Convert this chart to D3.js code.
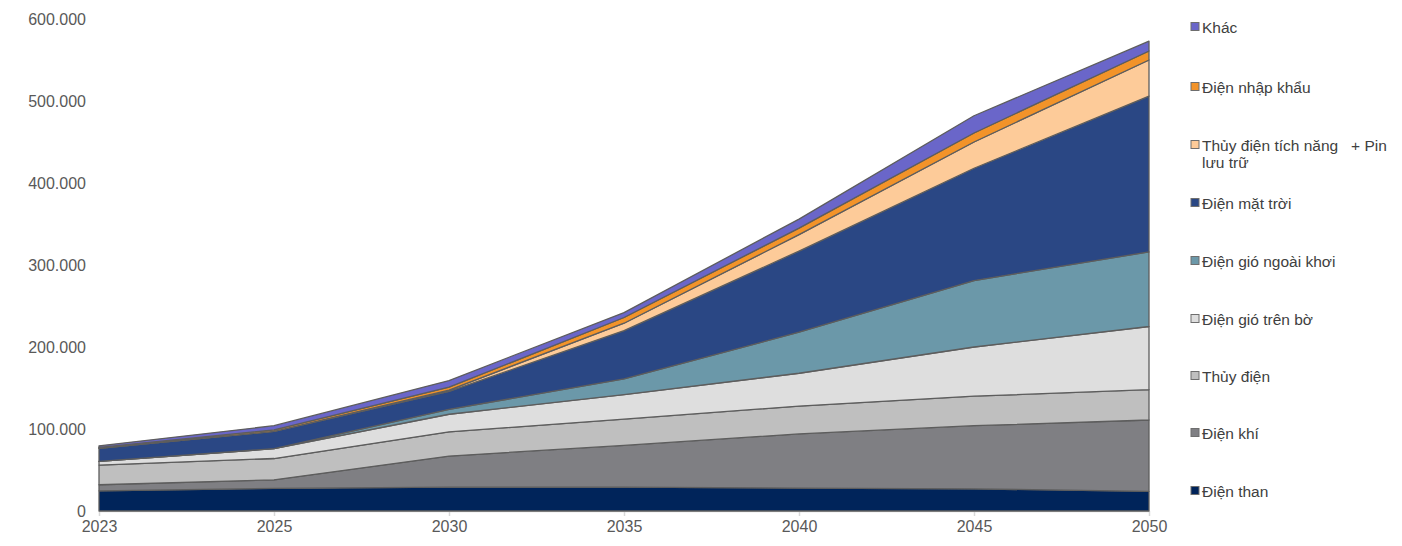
<!DOCTYPE html>
<html>
<head>
<meta charset="utf-8">
<script src="https://cdn.jsdelivr.net/npm/d3@7"></script>
<style>
  html, body { margin: 0; padding: 0; background: #fff; }
  svg { display: block; font-family: "Liberation Sans", Arial, sans-serif; }
</style>
</head>
<body>
<svg id="chart" width="1402" height="546"></svg>
<script>
// ---- data (MW) ----
const years = ["2023", "2025", "2030", "2035", "2040", "2045", "2050"];
const coal     = [24600, 27500, 29000, 29000, 28000, 27000, 24000];
const gas      = [7400, 10500, 38000, 51000, 66000, 77000, 87000];
const hydro    = [24000, 26000, 29500, 32000, 34000, 36000, 37000];
const onshore  = [4500, 12000, 21500, 30000, 40000, 60000, 77000];
const offshore = [0, 0, 6000, 19000, 50000, 81000, 91000];
const solar    = [16000, 21000, 22000, 59000, 99000, 137000, 190000];
const storage  = [0, 0, 1500, 9000, 20000, 32000, 44000];
const imports  = [1000, 2000, 3500, 7000, 8000, 11000, 11000];
const other    = [2000, 5000, 8000, 6000, 11000, 21000, 12000];
const yTicks   = [0, 100000, 200000, 300000, 400000, 500000, 600000];

const seriesNames = ["Điện than", "Điện khí", "Thủy điện", "Điện gió trên bờ", "Điện gió ngoài khơi",
  "Điện mặt trời", "Thủy điện tích năng   + Pin lưu trữ", "Điện nhập khẩu", "Khác"];
const seriesValues = [coal, gas, hydro, onshore, offshore, solar, storage, imports, other];
const colors = ["#00245a", "#7f7f83", "#bfbfbf", "#dedede", "#6b98a9", "#2a4784", "#fdcb99", "#f29329", "#6a66c9"];

// ---- build table ----
const keys = seriesNames.map((d, i) => "s" + i);
const table = years.map((y, j) => {
  const row = { year: y };
  seriesValues.forEach((arr, i) => row[keys[i]] = arr[j]);
  return row;
});
const stacked = d3.stack().keys(keys)(table);

const svg = d3.select("#chart");
const x = d3.scalePoint().domain(years).range([99, 1149]);
const y = d3.scaleLinear().domain([0, 600000]).range([511, 19]);

const loc = d3.formatLocale({ decimal: ",", thousands: ".", grouping: [3], currency: ["", ""] });
const fmt = loc.format(",");

const area = d3.area()
  .x(d => x(d.data.year))
  .y0(d => y(d[0]))
  .y1(d => y(d[1]));

// x axis
const xAxis = d3.axisBottom(x).tickSize(5).tickSizeOuter(0).tickPadding(5);
const gx = svg.append("g").attr("transform", "translate(0,511)").call(xAxis);
gx.select(".domain").attr("stroke", "#d9d9d9").attr("stroke-width", 1.5);
gx.selectAll(".tick line").attr("stroke", "#d9d9d9").attr("stroke-width", 1.5);
gx.selectAll(".tick text").attr("fill", "#595959").attr("font-size", 16)
  .attr("font-family", "Liberation Sans, Arial, sans-serif");

// areas
svg.append("g").selectAll("path").data(stacked).join("path")
  .attr("d", area)
  .attr("fill", (d, i) => colors[i])
  .attr("stroke", "#5d5d5d")
  .attr("stroke-width", 1.3)
  .attr("stroke-linejoin", "round");

// y axis
const yAxis = d3.axisLeft(y).tickValues(yTicks).tickFormat(fmt).tickSize(0).tickPadding(13);
const gy = svg.append("g").attr("transform", "translate(99,0)").call(yAxis);
gy.select(".domain").remove();
gy.selectAll(".tick text").attr("fill", "#595959").attr("font-size", 16)
  .attr("font-family", "Liberation Sans, Arial, sans-serif");

// legend (top to bottom: reverse stacking order)
const legendY = [27, 87, 145, 203, 261, 319, 376, 433, 491];
const legendOrder = d3.range(seriesNames.length).reverse();
const lg = svg.append("g");
legendOrder.forEach((si, k) => {
  const g = lg.append("g").attr("transform", `translate(1191,${legendY[k]})`);
  g.append("rect").attr("x", 0).attr("y", -4.5).attr("width", 8).attr("height", 8)
    .attr("fill", colors[si]).attr("stroke", "#6e6e6e").attr("stroke-width", 1);
  const t = g.append("text").attr("x", 11).attr("y", 5.5).attr("fill", "#404040")
    .attr("font-size", 15.5).style("white-space", "pre");
  if (si === 6) {
    t.append("tspan").text("Thủy điện tích năng   + Pin");
    t.append("tspan").attr("x", 11).attr("dy", 17).text("lưu trữ");
  } else {
    t.text(seriesNames[si]);
  }
});
</script>
</body>
</html>
